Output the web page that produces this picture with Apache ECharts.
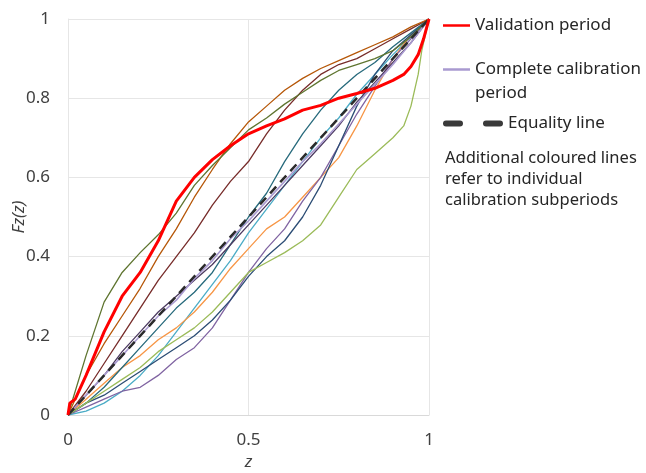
<!DOCTYPE html>
<html>
<head>
<meta charset="utf-8">
<script src="https://cdn.jsdelivr.net/npm/echarts@6/dist/echarts.min.js"></script>
<style>
  html, body { margin: 0; padding: 0; background: #fff; }
  #chart { width: 646px; height: 473px; }
</style>
</head>
<body>
<div id="chart"></div>
<script>
// z grid shared by most curves
var zGrid = [0, 0.05, 0.1, 0.15, 0.2, 0.25, 0.3, 0.35, 0.4, 0.45, 0.5, 0.55, 0.6, 0.65, 0.7, 0.75, 0.8, 0.85, 0.9, 0.95, 1];

// validation period (red)
var validationZ = [0, 0.005, 0.02, 0.05, 0.1, 0.15, 0.2, 0.25, 0.3, 0.35, 0.4, 0.45, 0.5, 0.55, 0.6, 0.65, 0.7, 0.75, 0.8, 0.85, 0.9, 0.93, 0.95, 0.97, 0.985, 1];
var validationF = [0, 0.03, 0.04, 0.1, 0.21, 0.3, 0.36, 0.44, 0.54, 0.6, 0.645, 0.68, 0.71, 0.73, 0.748, 0.77, 0.782, 0.8, 0.812, 0.825, 0.845, 0.86, 0.88, 0.91, 0.95, 1];

// complete calibration period (lavender)
var completeF = [0, 0.05, 0.1, 0.15, 0.2, 0.25, 0.29, 0.345, 0.39, 0.445, 0.49, 0.54, 0.59, 0.64, 0.685, 0.735, 0.785, 0.835, 0.885, 0.94, 1];

// equality line
var equalityZ = [0, 1];
var equalityF = [0, 1];

// individual calibration subperiods
var subDarkGreen = [0, 0.15, 0.285, 0.36, 0.41, 0.455, 0.51, 0.58, 0.63, 0.675, 0.72, 0.75, 0.785, 0.815, 0.845, 0.87, 0.885, 0.9, 0.92, 0.955, 1];
var subBrown = [0, 0.1, 0.18, 0.25, 0.32, 0.4, 0.47, 0.55, 0.62, 0.685, 0.74, 0.78, 0.82, 0.85, 0.875, 0.895, 0.915, 0.935, 0.955, 0.98, 1];
var subMaroon = [0, 0.06, 0.13, 0.2, 0.27, 0.34, 0.4, 0.46, 0.53, 0.59, 0.64, 0.71, 0.77, 0.82, 0.86, 0.885, 0.9, 0.925, 0.95, 0.975, 1];
var subTeal = [0, 0.03, 0.07, 0.12, 0.17, 0.22, 0.27, 0.31, 0.36, 0.43, 0.5, 0.56, 0.64, 0.71, 0.77, 0.82, 0.86, 0.89, 0.93, 0.965, 1];
var subAqua = [0, 0.01, 0.03, 0.06, 0.1, 0.15, 0.21, 0.27, 0.33, 0.39, 0.46, 0.52, 0.58, 0.64, 0.7, 0.75, 0.81, 0.86, 0.91, 0.955, 1];
var subOrange = [0, 0.04, 0.08, 0.12, 0.15, 0.19, 0.22, 0.26, 0.31, 0.37, 0.42, 0.47, 0.5, 0.55, 0.6, 0.65, 0.73, 0.82, 0.9, 0.96, 1];
var subPurple = [0, 0.02, 0.04, 0.06, 0.07, 0.1, 0.14, 0.17, 0.22, 0.29, 0.36, 0.42, 0.47, 0.54, 0.6, 0.68, 0.76, 0.83, 0.9, 0.95, 1];
var subNavy = [0, 0.03, 0.05, 0.08, 0.11, 0.14, 0.17, 0.2, 0.24, 0.29, 0.35, 0.4, 0.44, 0.5, 0.58, 0.68, 0.78, 0.86, 0.92, 0.96, 1];
var subDarkPurple = [0, 0.05, 0.1, 0.16, 0.21, 0.26, 0.3, 0.34, 0.38, 0.43, 0.48, 0.53, 0.58, 0.63, 0.68, 0.73, 0.79, 0.84, 0.89, 0.94, 1];
// light green has its own z points (sharp rise near 1)
var lightGreenZ = [0, 0.05, 0.1, 0.15, 0.2, 0.25, 0.3, 0.35, 0.4, 0.45, 0.5, 0.55, 0.6, 0.65, 0.7, 0.75, 0.8, 0.85, 0.9, 0.93, 0.95, 0.97, 0.98, 1];
var lightGreenF = [0, 0.03, 0.06, 0.09, 0.12, 0.16, 0.19, 0.22, 0.26, 0.31, 0.36, 0.385, 0.41, 0.44, 0.48, 0.55, 0.62, 0.66, 0.7, 0.73, 0.78, 0.86, 0.92, 1];

var yTicks = [0, 0.2, 0.4, 0.6, 0.8, 1];
var xTicks = [0, 0.5, 1];

function pairs(zs, fs) {
    return zs.map(function (z, i) { return [z, fs[i]]; });
}

var subperiods = [
    ['sub1', subAqua, '#4bacc6'],
    ['sub2', subOrange, '#f79646'],
    ['sub3', subPurple, '#8064a2'],
    ['sub4', subNavy, '#2c4d75'],
    ['sub5', subTeal, '#276a7c'],
    ['sub6', subDarkPurple, '#4d3b62'],
    ['sub7', subMaroon, '#772c2a'],
    ['sub8', subBrown, '#b65708'],
    ['sub9', subDarkGreen, '#5f7530']
];

var series = [];
subperiods.forEach(function (s) {
    series.push({
        name: s[0],
        type: 'line',
        symbol: 'none',
        data: pairs(zGrid, s[1]),
        lineStyle: { color: s[2], width: 1.3 },
        itemStyle: { color: s[2] }
    });
});
series.push({
    name: 'sub10',
    type: 'line',
    symbol: 'none',
    data: pairs(lightGreenZ, lightGreenF),
    lineStyle: { color: '#9bbb59', width: 1.3 },
    itemStyle: { color: '#9bbb59' }
});
series.push({
    name: 'Complete calibration period',
    type: 'line',
    symbol: 'none',
    data: pairs(zGrid, completeF),
    lineStyle: { color: '#a99ad0', width: 1.6 },
    itemStyle: { color: '#a99ad0' }
});
series.push({
    name: 'Equality line',
    type: 'line',
    symbol: 'none',
    data: pairs(equalityZ, equalityF),
    lineStyle: { color: '#2b2b2b', width: 2.5, type: [9, 6] },
    itemStyle: { color: '#3a3a3a' }
});
series.push({
    name: 'Validation period',
    type: 'line',
    symbol: 'none',
    data: pairs(validationZ, validationF),
    lineStyle: { color: '#ff0000', width: 3 },
    itemStyle: { color: '#ff0000' }
});

var font = 'Noto Sans';
var legendText = { fontSize: 17, color: '#262626', fontFamily: font };
var chart = echarts.init(document.getElementById('chart'));
chart.setOption({
    animation: false,
    grid: { left: 68, right: 217, top: 19, bottom: 58, outerBoundsMode: 'none' },
    xAxis: {
        type: 'value', min: 0, max: 1, interval: 0.5,
        name: 'z', nameLocation: 'middle', nameGap: 39,
        nameTextStyle: { fontStyle: 'italic', fontSize: 17, color: '#404040', fontFamily: font },
        axisLine: { show: true, lineStyle: { color: '#d9d9d9' } },
        axisTick: { show: false },
        axisLabel: { fontSize: 17, color: '#404040', fontFamily: font, margin: 17,
            formatter: function (v) { return xTicks.indexOf(v) >= 0 ? String(v) : ''; } },
        splitLine: { show: true, lineStyle: { color: '#e6e6e6' } }
    },
    yAxis: {
        type: 'value', min: 0, max: 1, interval: 0.2,
        name: 'Fz(z)', nameLocation: 'middle', nameGap: 40, nameMoveOverlap: false,
        nameTextStyle: { fontStyle: 'italic', fontSize: 17, color: '#404040', fontFamily: font },
        axisLine: { show: true, lineStyle: { color: '#e6e6e6' } },
        axisTick: { show: false },
        axisLabel: { fontSize: 17, color: '#404040', fontFamily: font, margin: 18,
            formatter: function (v) {
                var t = yTicks.filter(function (y) { return Math.abs(y - v) < 1e-9; });
                return t.length ? String(t[0]) : '';
            } },
        splitLine: { show: true, lineStyle: { color: '#e6e6e6' } }
    },
    legend: [
        {
            data: [{ name: 'Validation period', icon: 'rect' }],
            left: 443, top: 17, padding: 0,
            itemWidth: 27, itemHeight: 2.5, itemGap: 4,
            textStyle: legendText
        },
        {
            data: [{ name: 'Complete calibration period', icon: 'rect' }],
            left: 443, top: 61, padding: 0,
            itemWidth: 27, itemHeight: 2.5,
            formatter: function () { return 'Complete calibration'; },
            textStyle: legendText
        },
        {
            data: [{ name: 'Equality line', icon: 'path://M3,0h14a3,3 0 0 1 0,6h-14a3,3 0 0 1 0,-6z M43,0h14a3,3 0 0 1 0,6h-14a3,3 0 0 1 0,-6z' }],
            left: 443, top: 115, padding: 0,
            itemWidth: 60, itemHeight: 6,
            textStyle: legendText
        }
    ],
    graphic: [{
        type: 'text',
        left: 475, top: 85,
        style: { text: 'period', fontSize: 17, fill: '#262626', fontFamily: font }
    }, {
        type: 'text',
        left: 445, top: 148,
        style: {
            text: 'Additional coloured lines\nrefer to individual\ncalibration subperiods',
            fontSize: 16.5, lineHeight: 21, fill: '#262626', fontFamily: font
        }
    }],
    series: series
});
</script>
</body>
</html>
